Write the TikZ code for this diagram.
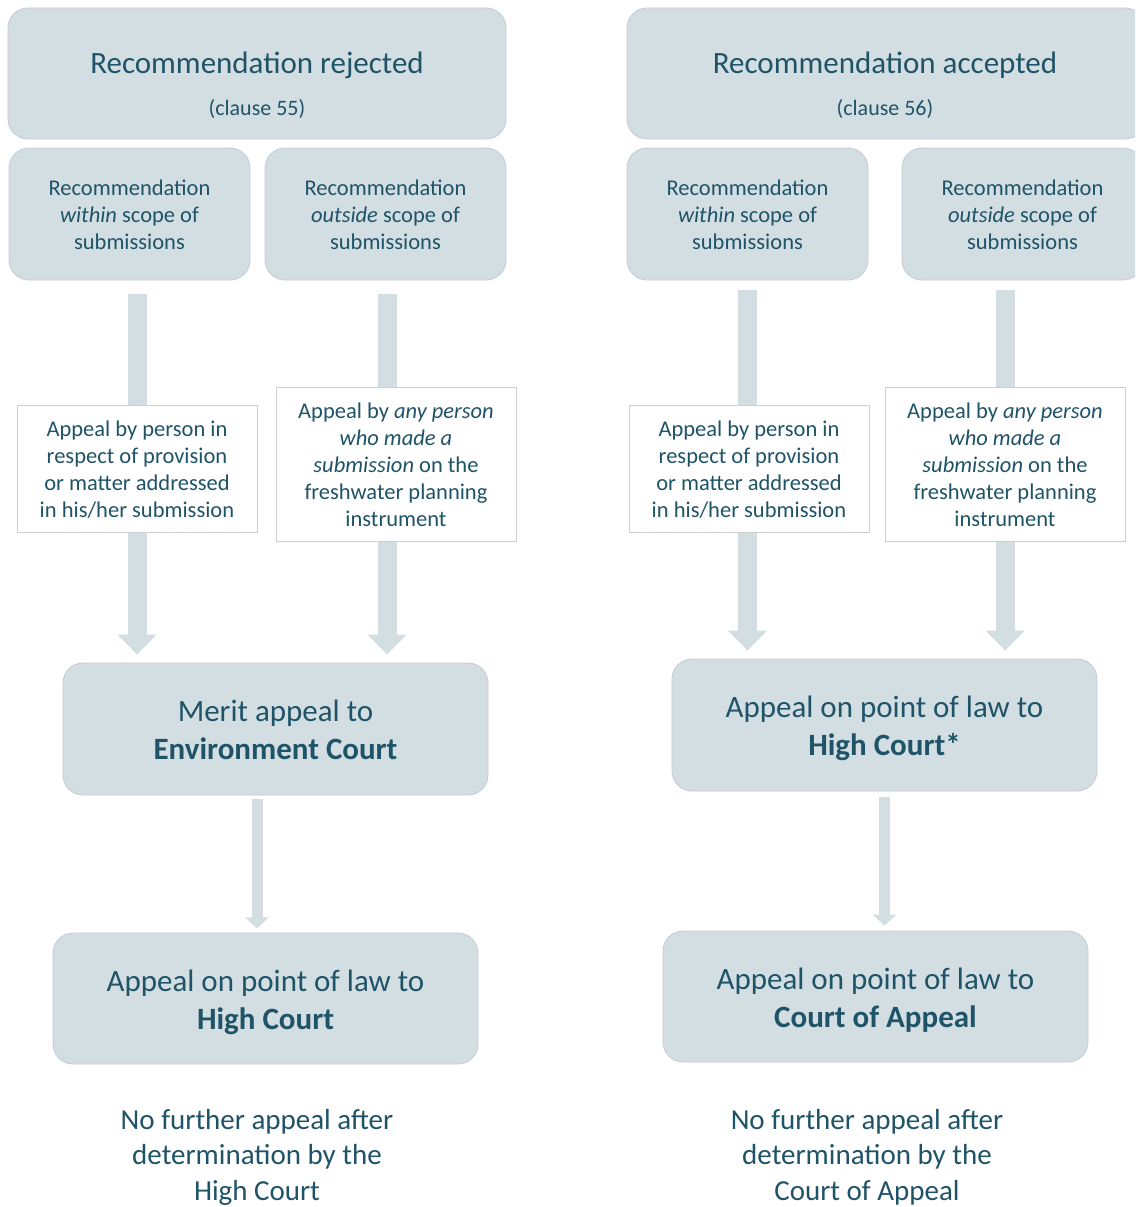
\documentclass[tikz,border=0pt]{standalone}
\usepackage{fontspec}
\setmainfont{Carlito}
\usetikzlibrary{arrows.meta,calc}
\definecolor{boxfill}{HTML}{D3DEE3}
\definecolor{boxline}{HTML}{C2CDD3}
\definecolor{txt}{HTML}{1F5468}
\definecolor{wline}{HTML}{CFCFCF}
\pgfdeclarelayer{bg}
\pgfsetlayers{bg,main}
\newcommand\tps{\rule{0pt}{0.95em}}
\newcommand\bts{\rule[-0.2em]{0pt}{0.2em}}
\tikzset{
  rbox/.style={draw=boxline, line width=0.8pt, fill=boxfill, rounded corners=20pt, text=txt, align=center, inner sep=0pt},
  wbox/.style={draw=wline, line width=0.8pt, fill=white, text=txt, align=center, inner sep=0pt},
  plain/.style={text=txt, align=center, inner sep=0pt},
  subfont/.style={font=\fontsize{22.5}{27}\selectfont},
  courtfont/.style={font=\fontsize{31}{38}\selectfont},
  notefont/.style={font=\fontsize{29}{35.5}\selectfont},
  bigarrow/.style={draw=boxfill, line width=19pt, -{Triangle[width=38pt,length=20pt]}},
  smallarrow/.style={draw=boxfill, line width=11pt, -{Triangle[width=23pt,length=11pt]}}
}
\begin{document}
\begin{tikzpicture}[x=1pt,y=-1pt]
\useasboundingbox (0,0) rectangle (1135,1207);
\begin{pgfonlayer}{bg}
\fill[white] (0,0) rectangle (1135,1207);
\end{pgfonlayer}
\clip (0,0) rectangle (1135,1207);

% top boxes
\node[rbox, minimum width=498pt, minimum height=131pt] (TL) at (257,73.5) {};
\node[rbox, minimum width=518pt, minimum height=131pt] (TR) at (886,73.5) {};
\node[plain, font=\fontsize{31}{38}\selectfont] (TLt) at (257,65) {Recommendation rejected};
\node[plain, font=\fontsize{22}{27}\selectfont] (TLc) at (257,109) {(clause 55)};
\node[plain, font=\fontsize{31}{38}\selectfont] (TRt) at (885,65) {Recommendation accepted};
\node[plain, font=\fontsize{22}{27}\selectfont] (TRc) at (885,109) {(clause 56)};

% sub boxes
\node[rbox, subfont, minimum width=241pt, minimum height=132pt] (L1) at (129.5,214) {\tps Recommendation\\\textit{within} scope of\\submissions\bts};
\node[rbox, subfont, minimum width=241pt, minimum height=132pt] (L2) at (385.5,214) {\tps Recommendation\\\textit{outside} scope of\\submissions\bts};
\node[rbox, subfont, minimum width=241pt, minimum height=132pt] (R1) at (747.5,214) {\tps Recommendation\\\textit{within} scope of\\submissions\bts};
\node[rbox, subfont, minimum width=241pt, minimum height=132pt] (R2) at (1022.5,214) {\tps Recommendation\\\textit{outside} scope of\\submissions\bts};

% white boxes
\node[wbox, subfont, minimum width=240pt, minimum height=127pt] (wL1) at (137,468.5) {\tps Appeal by person in\\respect of provision\\or matter addressed\\in his/her submission\bts};
\node[wbox, subfont, minimum width=240pt, minimum height=154pt] (wL2) at (396,464) {\tps Appeal by \textit{any person}\\\textit{who made a}\\\textit{submission} on the\\freshwater planning\\instrument\bts};
\node[wbox, subfont, minimum width=240pt, minimum height=127pt] (wR1) at (749,468.5) {\tps Appeal by person in\\respect of provision\\or matter addressed\\in his/her submission\bts};
\node[wbox, subfont, minimum width=240pt, minimum height=154pt] (wR2) at (1005,464) {\tps Appeal by \textit{any person}\\\textit{who made a}\\\textit{submission} on the\\freshwater planning\\instrument\bts};

% court boxes
\node[rbox, courtfont, minimum width=425pt, minimum height=132pt] (merit) at (275.5,729) {\tps Merit appeal to\\\textbf{Environment Court}\bts};
\node[rbox, courtfont, minimum width=425pt, minimum height=131pt] (hcL) at (265.5,998.5) {\tps Appeal on point of law to\\\textbf{High Court}\bts};
\node[rbox, courtfont, minimum width=425pt, minimum height=132pt] (hcR) at (884.5,725) {\tps Appeal on point of law to\\\textbf{High Court*}\bts};
\node[rbox, courtfont, minimum width=425pt, minimum height=131pt] (ca) at (875.5,996.5) {\tps Appeal on point of law to\\\textbf{Court of Appeal}\bts};

% notes
\node[plain, notefont] (noteL) at (257,1157) {No further appeal after\\determination by the\\High Court};
\node[plain, notefont] (noteR) at (867,1157) {No further appeal after\\determination by the\\Court of Appeal};

% arrows
\begin{pgfonlayer}{bg}
\draw[bigarrow] ($(wL1.center |- L1.south)+(0,14)$) -- ($(wL1.center |- merit.north)+(0,-8)$);
\draw[bigarrow] ($(L2.south)+(1.5,14)$) -- ($(L2.south |- merit.north)+(1.5,-8)$);
\draw[bigarrow] ($(R1.south)+(0,10)$) -- ($(R1.south |- hcR.north)+(0,-8)$);
\draw[bigarrow] ($(wR2.center |- R2.south)+(0,10)$) -- ($(wR2.center |- hcR.north)+(0,-8)$);
\draw[smallarrow] ($(merit.south)+(-18.5,4)$) -- ($(merit.south -| noteL.center)+(0,133)$);
\draw[smallarrow] ($(hcR.south)+(0,6)$) -- ($(hcR.south |- ca.north)+(0,-5)$);
\end{pgfonlayer}
\end{tikzpicture}
\end{document}
